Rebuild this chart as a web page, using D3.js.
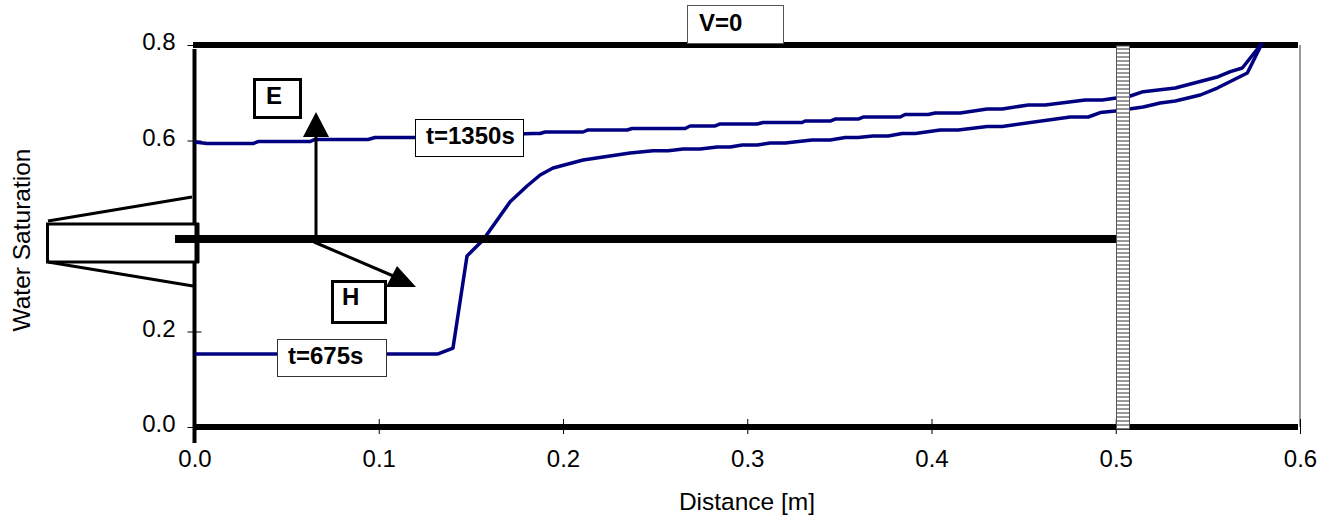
<!DOCTYPE html>
<html>
<head>
<meta charset="utf-8">
<script src="https://cdn.jsdelivr.net/npm/d3@7"></script>
<style>
  html, body { margin: 0; padding: 0; background: #fff; }
  svg { display: block; }
  text { font-family: "Liberation Sans", Arial, sans-serif; fill: #000; }
</style>
</head>
<body>
<div id="chart"></div>
<script>
// values
var xTicks = [0, 0.1, 0.2, 0.3, 0.4, 0.5, 0.6];
var yTicks = [0, 0.2, 0.4, 0.6, 0.8];

var late_x = [0, 0.0068, 0.0318, 0.0345, 0.0627, 0.0654, 0.0942, 0.098, 0.1192, 0.1838, 0.1876, 0.1903, 0.2109, 0.2136, 0.2348, 0.2375, 0.2663, 0.269, 0.2826, 0.2853, 0.3054, 0.3086, 0.3298, 0.3314, 0.345, 0.3477, 0.3602, 0.3629, 0.383, 0.3857, 0.3982, 0.402, 0.4156, 0.4302, 0.4384, 0.4525, 0.4617, 0.4834, 0.4927, 0.5003, 0.5079, 0.5149, 0.5323, 0.5556, 0.5622, 0.5687, 0.579];
var late_y = [0.5969, 0.5937, 0.5937, 0.5979, 0.5979, 0.6021, 0.6021, 0.6063, 0.6063, 0.6147, 0.6147, 0.6178, 0.6178, 0.622, 0.622, 0.6251, 0.6251, 0.6304, 0.6304, 0.6346, 0.6346, 0.6377, 0.6377, 0.6408, 0.6408, 0.645, 0.645, 0.6492, 0.6492, 0.6545, 0.6545, 0.6576, 0.6576, 0.666, 0.666, 0.6743, 0.6743, 0.6848, 0.6848, 0.689, 0.6932, 0.7022, 0.7099, 0.7336, 0.7441, 0.7518, 0.8021];

var early_x = [0, 0.1322, 0.1403, 0.1479, 0.1566, 0.1713, 0.1805, 0.1876, 0.1946, 0.2109, 0.2364, 0.2489, 0.2571, 0.2652, 0.2744, 0.2837, 0.2907, 0.2973, 0.3054, 0.3124, 0.3206, 0.3352, 0.345, 0.3532, 0.3602, 0.3683, 0.3765, 0.3841, 0.3912, 0.4047, 0.4145, 0.4302, 0.4384, 0.4753, 0.4851, 0.4916, 0.4997, 0.5149, 0.5241, 0.5323, 0.5459, 0.5551, 0.5638, 0.5714, 0.5795];
var early_y = [0.1529, 0.1529, 0.1654, 0.3581, 0.3916, 0.4718, 0.5047, 0.5277, 0.5424, 0.5592, 0.5738, 0.5786, 0.5786, 0.5822, 0.5822, 0.5864, 0.5864, 0.5906, 0.5906, 0.5948, 0.5948, 0.601, 0.601, 0.6063, 0.6063, 0.6094, 0.6094, 0.6147, 0.6147, 0.622, 0.622, 0.6293, 0.6293, 0.6492, 0.6492, 0.6586, 0.6618, 0.6702, 0.6785, 0.6827, 0.6953, 0.7099, 0.7267, 0.7414, 0.8042];

var width = 1335, height = 523;

var svg = d3.select("#chart")
  .append("svg")
    .attr("width", width)
    .attr("height", height);

var x = d3.scaleLinear().domain([0, 0.6]).range([194.5, 1300]);
var y = d3.scaleLinear().domain([0, 0.8]).range([427, 45]);

// stripes for the absorber block
var pat = svg.append("defs").append("pattern")
    .attr("id", "stripes")
    .attr("patternUnits", "userSpaceOnUse")
    .attr("width", 4)
    .attr("height", 4);
pat.append("rect").attr("width", 4).attr("height", 4).attr("fill", "#fff");
pat.append("rect").attr("width", 4).attr("height", 2).attr("fill", "#999");

// right frame line
svg.append("line")
    .attr("x1", x(0.6)).attr("x2", x(0.6))
    .attr("y1", y(0.8)).attr("y2", y(0))
    .attr("stroke", "#999").attr("stroke-width", 2);

// Add X axis
var xAxis = svg.append("g")
    .attr("transform", "translate(0," + y(0) + ")")
    .call(d3.axisBottom(x).tickValues(xTicks).tickFormat(d3.format(".1f")).tickSize(7));
xAxis.select(".domain").remove();
xAxis.selectAll("line").attr("y1", -8).attr("stroke", "#000");
xAxis.selectAll("text").attr("y", 23).attr("dy", "0.71em").style("font-size", "24px");

// Add Y axis
var yAxis = svg.append("g")
    .attr("transform", "translate(" + x(0) + ",0)")
    .call(d3.axisLeft(y).tickValues(yTicks).tickFormat(d3.format(".1f")).tickSize(7));
yAxis.select(".domain").remove();
yAxis.selectAll("line").attr("x2", -7).attr("x1", 7).attr("stroke", "#000");
yAxis.selectAll("text").attr("x", -19).attr("dy", "0.2em").style("font-size", "24px");

// y axis line
svg.append("line")
    .attr("x1", x(0)).attr("x2", x(0))
    .attr("y1", 49).attr("y2", 443)
    .attr("stroke", "#000").attr("stroke-width", 4);

// top and bottom walls
[0.8, 0].forEach(function(v) {
  svg.append("line")
      .attr("x1", 193).attr("x2", 1298)
      .attr("y1", y(v)).attr("y2", y(v))
      .attr("stroke", "#000").attr("stroke-width", 6);
});

// Add the lines
var line = d3.line()
    .x(function(d) { return x(d[0]); })
    .y(function(d) { return y(d[1]); });

[[early_x, early_y], [late_x, late_y]].forEach(function(s) {
  svg.append("path")
      .datum(d3.zip(s[0], s[1]))
      .attr("fill", "none")
      .attr("stroke", "#000080")
      .attr("stroke-width", 3.5)
      .attr("stroke-linejoin", "round")
      .attr("d", line);
});

// absorber block at the end of the guide
svg.append("rect")
    .attr("x", 1116.5).attr("y", 46).attr("width", 13).attr("height", 383)
    .attr("fill", "url(#stripes)")
    .attr("stroke", "#555").attr("stroke-width", 1);

// source: horn and guide
var black = "#000";
svg.append("rect")
    .attr("x", 47.5).attr("y", 224).attr("width", 150).attr("height", 38)
    .attr("fill", "#fff").attr("stroke", black).attr("stroke-width", 3);
svg.append("line").attr("x1", 48).attr("y1", 221).attr("x2", 192).attr("y2", 197)
    .attr("stroke", black).attr("stroke-width", 3);
svg.append("line").attr("x1", 48).attr("y1", 262).attr("x2", 193).attr("y2", 286)
    .attr("stroke", black).attr("stroke-width", 3);
svg.append("line").attr("x1", 197).attr("y1", 223).attr("x2", 197).attr("y2", 263)
    .attr("stroke", black).attr("stroke-width", 5);
svg.append("line").attr("x1", 175).attr("y1", 239).attr("x2", 1116).attr("y2", 239)
    .attr("stroke", black).attr("stroke-width", 8);

// E and H arrows
svg.append("line").attr("x1", 316).attr("y1", 239).attr("x2", 316).attr("y2", 137)
    .attr("stroke", black).attr("stroke-width", 3);
svg.append("path").attr("d", "M316,112L303,137L329,137Z").attr("fill", black);
svg.append("line").attr("x1", 314).attr("y1", 242).attr("x2", 398).attr("y2", 278)
    .attr("stroke", black).attr("stroke-width", 3);
svg.append("path").attr("d", "M397,266L416,287L386,287Z").attr("fill", black);

// text boxes
var boxes = [
  {label: "E", x: 254, y: 79, w: 46, h: 38, tx: 266, ty: 104, sw: 3, stroke: "#000"},
  {label: "H", x: 332, y: 281, w: 53, h: 41, tx: 342, ty: 305, sw: 3, stroke: "#000"},
  {label: "t=1350s", x: 415, y: 119, w: 108, h: 37, tx: 426, ty: 144, sw: 1, stroke: "#000"},
  {label: "t=675s", x: 277, y: 339, w: 109, h: 37, tx: 288, ty: 364, sw: 1, stroke: "#333"},
  {label: "V=0", x: 687, y: 5, w: 96, h: 38, tx: 699, ty: 31, sw: 1, stroke: "#555"}
];
boxes.forEach(function(b) {
  svg.append("rect")
      .attr("x", b.x + 0.5).attr("y", b.y + 0.5).attr("width", b.w).attr("height", b.h)
      .attr("fill", "#fff").attr("stroke", b.stroke).attr("stroke-width", b.sw);
  svg.append("text")
      .attr("x", b.tx).attr("y", b.ty)
      .attr("font-weight", "bold")
      .style("font-size", "24px")
      .text(b.label);
});

// axis titles
svg.append("text")
    .attr("x", 747).attr("y", 510)
    .attr("text-anchor", "middle")
    .style("font-size", "24.5px")
    .text("Distance [m]");
svg.append("text")
    .attr("transform", "translate(30,240) rotate(-90)")
    .attr("text-anchor", "middle")
    .style("font-size", "24.5px")
    .text("Water Saturation");
</script>
</body>
</html>
